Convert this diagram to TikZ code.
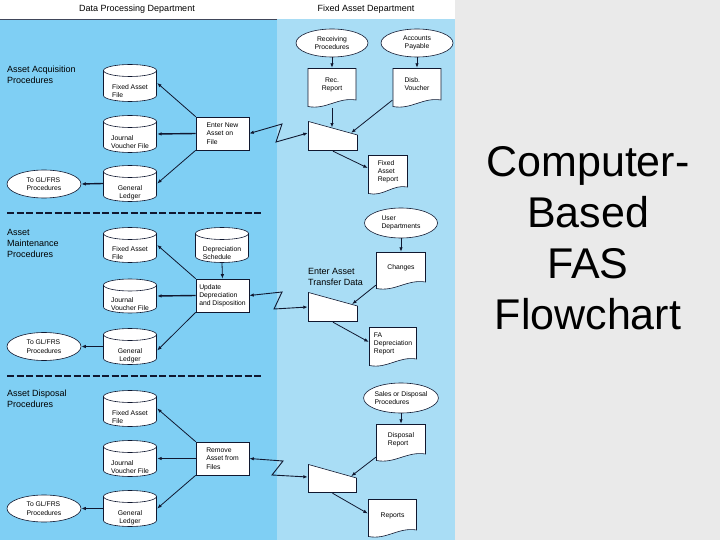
\documentclass[tikz,border=0pt]{standalone}
\usepackage{fontspec}
\setmainfont{Liberation Sans}
\usetikzlibrary{shapes.geometric,arrows.meta,calc}
\definecolor{dpblue}{RGB}{127,207,244}
\definecolor{fablue}{RGB}{169,221,245}
\definecolor{slidegray}{RGB}{234,234,234}
\definecolor{ink}{RGB}{16,24,48}
\newcommand\lab{\fontsize{6.8}{8.2}\selectfont}
\newcommand\sect{\fontsize{9}{11}\selectfont}
\newcommand\shiftt[3]{\raisebox{#1}[\height][\depth]{\begin{tabular}{@{}#2@{}}#3\end{tabular}}}
\begin{document}
\begin{tikzpicture}[x=1pt,y=-1pt,
  shapeline/.style={draw=ink, line width=0.6pt},
  hdr/.style={font=\fontsize{9}{11}\selectfont, inner sep=0pt},
  sectlabel/.style={anchor=west, align=left, font=\sect, inner sep=0pt},
  procbox/.style={rectangle, shapeline, fill=white, minimum width=53pt, minimum height=33pt, inner sep=0pt, align=left, font=\lab},
  term/.style={ellipse, shapeline, fill=white, inner sep=0pt, align=left, font=\lab},
  cylbox/.style={rectangle, inner sep=0pt, minimum width=54pt, minimum height=#1, font=\lab,
    path picture={
      \draw[shapeline, fill=white]
        ([shift={(0.5pt,-6.5pt)}]path picture bounding box.north west)
        -- ([shift={(0.5pt,6.5pt)}]path picture bounding box.south west)
        arc[start angle=180, end angle=360, x radius=26.5pt, y radius=6pt]
        -- ([shift={(-0.5pt,-6.5pt)}]path picture bounding box.north east)
        arc[start angle=0, end angle=180, x radius=26.5pt, y radius=6pt]
        -- cycle;
      \draw[shapeline] ([shift={(0.5pt,-6.5pt)}]path picture bounding box.north west)
        arc[start angle=180, end angle=360, x radius=26.5pt, y radius=6pt];
    }},
  docbox/.style={rectangle, inner sep=0pt, font=\lab,
    path picture={
      \draw[shapeline, fill=white]
        ([shift={(0.5pt,-0.5pt)}]path picture bounding box.north west)
        -- ([shift={(-0.5pt,-0.5pt)}]path picture bounding box.north east)
        -- ([shift={(-0.5pt,8pt)}]path picture bounding box.south east)
        .. controls ($(path picture bounding box.south west)!0.62!(path picture bounding box.south east)+(0pt,11pt)$)
        and ($(path picture bounding box.south west)!0.38!(path picture bounding box.south east)+(0pt,-2pt)$)
        .. ([shift={(0.5pt,1.5pt)}]path picture bounding box.south west) -- cycle;
    }},
  manbox/.style={rectangle, inner sep=0pt,
    path picture={
      \draw[shapeline, fill=white]
        ([shift={(0.5pt,-0.5pt)}]path picture bounding box.north west)
        -- ([shift={(-0.5pt,-14pt)}]path picture bounding box.north east)
        -- ([shift={(-0.5pt,0.5pt)}]path picture bounding box.south east)
        -- ([shift={(0.5pt,0.5pt)}]path picture bounding box.south west) -- cycle;
    }},
  arr/.style={draw=ink, line width=0.8pt, -{Latex[length=4.5pt,width=3.5pt]}},
  thickarr/.style={arr, line width=1.4pt},
  link/.style={draw=ink, line width=0.9pt, {Latex[length=4.5pt,width=3.5pt]}-{Latex[length=4.5pt,width=3.5pt]}},
  divider/.style={draw=ink, line width=1.3pt, dash pattern=on 7pt off 2.5pt}
]
\useasboundingbox (0,0) rectangle (720,540);
% backgrounds
\fill[slidegray] (0,0) rectangle (720,540);
\fill[white] (0,0) rectangle (455,19);
\fill[dpblue] (0,19) rectangle (277,540);
\fill[fablue] (277,19) rectangle (455,540);
\draw[ink!80, line width=0.8pt] (0,19) -- (277,19);

% headers
\node[hdr] (hdp) at (137,9) {Data Processing Department};
\node[hdr] (hfa) at (366,9) {Fixed Asset Department};

% title
\node[font=\fontsize{43}{51}\selectfont, align=center, inner sep=0pt] (title) at (588,238.5) {Computer-\\Based\\FAS\\Flowchart};

% section labels
\node[sectlabel] (s1) at (7,74.5) {Asset Acquisition\\Procedures};
\node[sectlabel] (s2) at (7,243) {Asset\\Maintenance\\Procedures};
\node[sectlabel] (s3) at (7,399) {Asset Disposal\\Procedures};

% dividers
\draw[divider] (7,213) -- (262,213);
\draw[divider] (7,376) -- (262,376);

% ---------- Section 1 ----------
\node[cylbox=38pt] (fa1) at (130,83) {\shiftt{-9pt}{l}{Fixed Asset\\File}};
\node[cylbox=38pt] (jv1) at (130,134) {\shiftt{-9pt}{l}{Journal\\Voucher File}};
\node[cylbox=37pt] (gl1) at (130,183.5) {\shiftt{-9pt}{c}{General\\Ledger}};
\node[term, minimum width=74pt, minimum height=28pt] (gf1) at (44,184) {To GL/FRS\\Procedures};
\node[procbox] (enter) at (222.5,133.5) {Enter New\\Asset on\\File};

\node[term, align=center, minimum width=72pt, minimum height=28pt] (rp) at (332,43) {Receiving\\Procedures};
\node[term, align=center, minimum width=72pt, minimum height=28pt] (ap) at (417,43) {Accounts\\Payable};
\node[docbox, minimum width=49pt, minimum height=40pt] (rr) at (332,88) {\shiftt{3pt}{c}{Rec.\\Report}};
\node[docbox, minimum width=49pt, minimum height=40pt] (dv) at (417,88) {\shiftt{3pt}{l}{Disb.\\Voucher}};
\node[manbox, minimum width=50pt, minimum height=30pt] (t1) at (333,136) {};
\node[docbox, minimum width=40pt, minimum height=40pt] (far) at (388,175) {\shiftt{3pt}{l}{Fixed\\Asset\\Report}};
\coordinate (t1ne) at ([yshift=-14pt]t1.north east);
\coordinate (t1a) at ($(t1.north west)!0.48!(t1ne)$);
\coordinate (t1b) at ($(t1.north west)!0.86!(t1ne)$);
\coordinate (z1a) at (282,124);
\coordinate (z1b) at (276,142);

\draw[arr] (enter.north west) -- (fa1.east);
\draw[thickarr] (enter.west) -- (jv1.east);
\draw[arr] (enter.south west) -- (gl1.east);
\draw[thickarr] (gl1.west) -- (gf1.east);
\draw[link] (enter.east) -- (z1a) -- (z1b) -- ([yshift=3pt]t1.west);
\draw[arr] (rp.south) -- (rr.north);
\draw[arr] (ap.south) -- (dv.north);
\draw[arr] (rr.south) -- (rr.south |- t1a);
\draw[arr] ([yshift=8pt]dv.south west) -- (t1b);
\draw[arr] (t1.south) -- ([yshift=7pt]far.west);

% ---------- Section 2 ----------
\node[cylbox=36pt] (fa2) at (130,245) {\shiftt{-9pt}{l}{Fixed Asset\\File}};
\node[cylbox=36pt] (ds) at (222,245) {\shiftt{-9pt}{l}{Depreciation\\Schedule}};
\node[cylbox=35pt] (jv2) at (130,296) {\shiftt{-9pt}{l}{Journal\\Voucher File}};
\node[cylbox=37pt] (gl2) at (130,346.5) {\shiftt{-9pt}{c}{General\\Ledger}};
\node[term, minimum width=74pt, minimum height=28pt] (gf2) at (44,346.5) {To GL/FRS\\Procedures};
\node[procbox] (upd) at (222.5,295.5) {Update\\Depreciation\\and Disposition};

\node[term, minimum width=73pt, minimum height=30pt] (ud) at (401,223) {User\\Departments};
\node[docbox, minimum width=50pt, minimum height=38pt] (ch) at (401,271) {\shiftt{3pt}{l}{Changes}};
\node[anchor=north west, align=left, font=\sect, inner sep=0pt] (eatd) at (308,268.5) {Enter Asset\\Transfer Data};
\node[manbox, minimum width=50pt, minimum height=30pt] (t2) at (333,307) {};
\node[docbox, minimum width=48pt, minimum height=40pt] (fadr) at (393,347) {\shiftt{3pt}{l}{FA\\Depreciation\\Report}};
\coordinate (t2ne) at ([yshift=-14pt]t2.north east);
\coordinate (t2b) at ($(t2.north west)!0.88!(t2ne)$);
\coordinate (z2a) at (282,292);
\coordinate (z2b) at (274,309);

\draw[arr] (ds.south) -- (upd.north);
\draw[arr] (upd.north west) -- (fa2.east);
\draw[thickarr] (upd.west) -- (jv2.east);
\draw[arr] (upd.south west) -- ([yshift=-4pt]gl2.east);
\draw[thickarr] (gl2.west) -- (gf2.east);
\draw[link] (upd.east) -- (z2a) -- (z2b) -- (t2.west);
\draw[arr] (ud.south) -- (ch.north);
\draw[arr] ([yshift=5pt]ch.south west) -- (t2b);
\draw[arr] (t2.south) -- ([yshift=5pt]fadr.west);

% ---------- Section 3 ----------
\node[cylbox=37pt] (fa3) at (130,408.5) {\shiftt{-9pt}{l}{Fixed Asset\\File}};
\node[cylbox=37pt] (jv3) at (130,458.5) {\shiftt{-9pt}{l}{Journal\\Voucher File}};
\node[cylbox=37pt] (gl3) at (130,508.5) {\shiftt{-9pt}{c}{General\\Ledger}};
\node[term, minimum width=74pt, minimum height=27pt] (gf3) at (44,508.5) {To GL/FRS\\Procedures};
\node[procbox] (rem) at (222.5,458.5) {Remove\\Asset from\\Files};

\node[term, minimum width=73pt, minimum height=30pt] (sd) at (401,398) {Sales or Disposal\\Procedures};
\node[docbox, minimum width=50pt, minimum height=38pt] (dr) at (401,443) {\shiftt{3pt}{l}{Disposal\\Report}};
\node[manbox, minimum width=49pt, minimum height=29pt] (t3) at (332.5,478.5) {};
\node[docbox, minimum width=49pt, minimum height=39pt] (rep) at (392.5,518.5) {\shiftt{3pt}{l}{Reports}};
\coordinate (t3ne) at ([yshift=-14pt]t3.north east);
\coordinate (t3b) at ($(t3.north west)!0.88!(t3ne)$);
\coordinate (z3a) at (283,461);
\coordinate (z3b) at (272,475);

\draw[arr] (rem.north west) -- (fa3.east);
\draw[thickarr] (rem.west) -- (jv3.east);
\draw[arr] (rem.south west) -- (gl3.east);
\draw[thickarr] (gl3.west) -- (gf3.east);
\draw[link] (rem.east) -- (z3a) -- (z3b) -- ([yshift=1.5pt]t3.west);
\draw[arr] (sd.south) -- (dr.north);
\draw[arr] ([yshift=5pt]dr.south west) -- (t3b);
\draw[arr] (t3.south) -- ([yshift=5pt]rep.west);
\end{tikzpicture}
\end{document}
